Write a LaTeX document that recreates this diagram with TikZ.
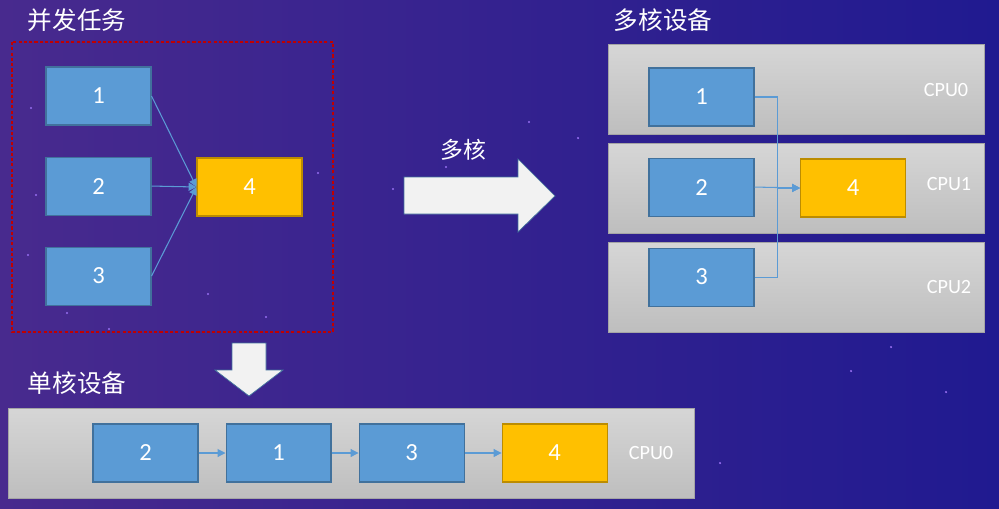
\documentclass[tikz,border=0pt]{standalone}
\usepackage{fontspec}
\setmainfont{Carlito}
\newfontfamily\cjk{Noto Sans CJK SC}
\usetikzlibrary{positioning,arrows.meta}

\definecolor{bgleft}{RGB}{72,42,142}
\definecolor{bgright}{RGB}{32,26,144}
\definecolor{taskblue}{RGB}{91,155,213}
\definecolor{taskedge}{RGB}{65,113,156}
\definecolor{sinkgold}{RGB}{255,192,0}
\definecolor{sinkedge}{RGB}{188,140,0}
\definecolor{bandtop}{RGB}{214,214,214}
\definecolor{bandbot}{RGB}{190,190,190}
\definecolor{bandedge}{RGB}{165,165,165}
\definecolor{framered}{RGB}{192,0,0}
\definecolor{stardot}{RGB}{150,110,240}
\definecolor{arrowfill}{RGB}{242,242,242}

\tikzset{
  task/.style={draw=taskedge, fill=taskblue, line width=0.6pt,
    minimum width=2.1cm, minimum height=1.16cm, inner sep=0pt,
    text=white, font=\fontsize{14}{16}\selectfont},
  sink/.style={task, draw=sinkedge, fill=sinkgold},
  band/.style={draw=bandedge, top color=bandtop, bottom color=bandbot,
    line width=0.5pt, inner sep=0pt, minimum height=1.8cm},
  cpulabel/.style={text=white, font=\fontsize{11.5}{13}\selectfont},
  title/.style={text=white, font=\cjk\fontsize{14}{16}\selectfont},
  link/.style={draw=taskblue, line width=0.6pt,
    -{Triangle[length=4.5pt,width=4.5pt]}},
  bigarrow/.style={fill=arrowfill, draw=taskedge, line width=0.4pt},
}

\begin{document}
\begin{tikzpicture}[x=0.02cm, y=-0.02cm]
    \useasboundingbox (0,0) rectangle (999,508);
    \shade[left color=bgleft, right color=bgright] (0,0) rectangle (999,508);

    % stars
    \foreach \sx/\sy in {31/108, 36/195, 28/255, 67/313, 109/329, 208/294,
        266/317, 318/173, 529/122, 446/167, 393/189, 578/138, 891/347,
        851/371, 946/392, 720/463}
        \fill[stardot] (\sx,\sy) circle (0.7pt);

    % concurrent tasks
    \node[title] (tconc) at (77,20) {并发任务};
    \draw[framered, line width=0.6pt, dash pattern=on 1.8pt off 1.2pt]
        (12,42) rectangle (333,332);
    \node[task] (r1) at (98.5,96) {1};
    \node[task, below=0.62cm of r1] (r2) {2};
    \node[task, below=0.62cm of r2] (r3) {3};
    \node[sink] (r4) at (249.5,187) {4};

    \draw[link] (r1.east) -- (r4.west);
    \draw[link] (r2.east) -- (r4.west);
    \draw[link] (r3.east) -- (r4.west);

    % multi core
    \node[text=white, font=\cjk\fontsize{13}{15}\selectfont] (tarrow) at (463,150) {多核};
    \draw[bigarrow] (404,177) -- (518,177) -- (518,159) -- (555,196)
        -- (518,232) -- (518,214) -- (404,214) -- cycle;

    \node[title] (tmulti) at (663,20) {多核设备};
    \node[band, minimum width=7.52cm] (cpu0) at (796,89) {};
    \node[band, minimum width=7.52cm] (cpu1) at (796,188) {};
    \node[band, minimum width=7.52cm] (cpu2) at (796,287) {};
    \node[cpulabel] (l0) at (946,90) {CPU0};
    \node[cpulabel] (l1) at (949,184) {CPU1};
    \node[cpulabel] (l2) at (949,287) {CPU2};

    \node[task] (m1) at (701.5,97) {1};
    \node[task, below=0.62cm of m1] (m2) {2};
    \node[task, below=0.62cm of m2] (m3) {3};
    \node[sink] (m4) at (853,188) {4};

    \draw[link] (m2.east) -- (m4.west);
    \draw[link] (m1.east) -- ++(23,0) |- (m4.west);
    \draw[link] (m3.east) -- ++(23,0) |- (m4.west);

    % single core
    \draw[bigarrow] (232,343) -- (266,343) -- (266,370) -- (283,370)
        -- (249,396) -- (215,370) -- (232,370) -- cycle;

    \node[title] (tsingle) at (77,383) {单核设备};
    \node[band, minimum width=13.72cm] (core) at (351,453) {};
    \node[cpulabel] (lc) at (651,453) {CPU0};

    \node[task] (s2) at (145.5,453) {2};
    \node[task, right=0.54cm of s2] (s1) {1};
    \node[task, right=0.54cm of s1] (s3) {3};
    \node[sink, right=0.74cm of s3] (s4) {4};

    \draw[link] (s2) -- (s1);
    \draw[link] (s1) -- (s3);
    \draw[link] (s3) -- (s4);
\end{tikzpicture}
\end{document}
